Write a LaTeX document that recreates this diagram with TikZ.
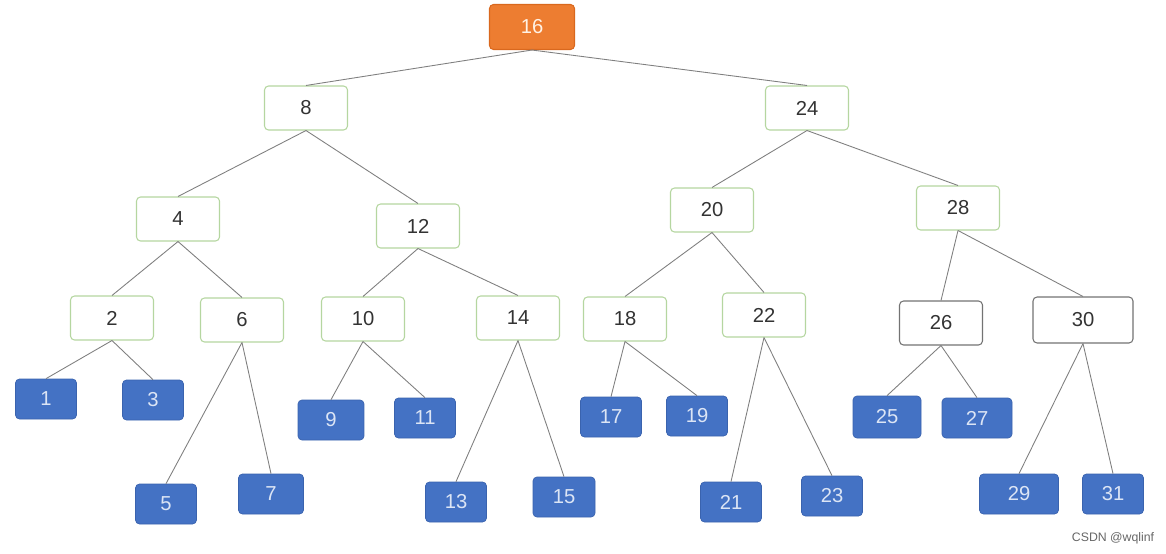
\documentclass[tikz,border=0pt]{standalone}
\usepackage{fontspec}
\setmainfont{Liberation Sans}
\definecolor{rootfill}{HTML}{ED7D31}
\definecolor{rootline}{HTML}{D9681E}
\definecolor{greenline}{HTML}{B5D6A0}
\definecolor{leaffill}{HTML}{4472C4}
\definecolor{leafline}{HTML}{3A63AE}
\definecolor{leaftext}{HTML}{DCE5F5}
\definecolor{edgegray}{HTML}{7F7F7F}
\begin{document}
\begin{tikzpicture}[
        x=0.02cm, y=-0.02cm,
        font=\fontsize{11.5}{13}\selectfont,
        box/.style={rectangle, rounded corners=0.08cm, draw=greenline, line width=0.6pt, fill=white, text=black!80, minimum width=1.66cm, minimum height=0.88cm, inner sep=0pt},
        graybox/.style={box, draw=black!55},
        root/.style={box, draw=rootline, fill=rootfill, text=white!90!orange, minimum width=1.7cm, minimum height=0.9cm},
        leaf/.style={rectangle, rounded corners=0.08cm, draw=leafline, fill=leaffill, text=leaftext, minimum width=1.22cm, minimum height=0.8cm, inner sep=0pt},
        edge/.style={draw=edgegray, line width=0.5pt}
    ]
    \useasboundingbox (0,0) rectangle (1166,554);
    
    \node[root] (n16) at (532,27) {16};
    
    \node[box] (n8) at (306,108) {8};
    \node[box] (n24) at (807,108) {24};
    
    \node[box] (n4) at (178,219) {4};
    \node[box] (n12) at (418,226) {12};
    \node[box] (n20) at (712,210) {20};
    \node[box] (n28) at (958,208) {28};
    
    \node[box] (n2) at (112,318) {2};
    \node[box] (n6) at (242,320) {6};
    \node[box] (n10) at (363,319) {10};
    \node[box] (n14) at (518,318) {14};
    \node[box] (n18) at (625,319) {18};
    \node[box] (n22) at (764,315) {22};
    \node[graybox] (n26) at (941,323) {26};
    \node[graybox, minimum width=2cm, minimum height=0.92cm] (n30) at (1083,320) {30};
    
    \node[leaf] (n1) at (46,399) {1};
    \node[leaf] (n3) at (153,400) {3};
    \node[leaf] (n5) at (166,504) {5};
    \node[leaf, minimum width=1.3cm] (n7) at (271,494) {7};
    \node[leaf, minimum width=1.32cm] (n9) at (331,420) {9};
    \node[leaf] (n11) at (425,418) {11};
    \node[leaf] (n13) at (456,502) {13};
    \node[leaf, minimum width=1.24cm] (n15) at (564,497) {15};
    \node[leaf] (n17) at (611,417) {17};
    \node[leaf] (n19) at (697,416) {19};
    \node[leaf] (n21) at (731,502) {21};
    \node[leaf] (n23) at (832,496) {23};
    \node[leaf, minimum width=1.36cm, minimum height=0.84cm] (n25) at (887,417) {25};
    \node[leaf, minimum width=1.4cm] (n27) at (977,418) {27};
    \node[leaf, minimum width=1.58cm] (n29) at (1019,494) {29};
    \node[leaf] (n31) at (1113,494) {31};
    
    % connectors
    \draw[edge] (n16.south) -- (n8.north);
    \draw[edge] (n16.south) -- (n24.north);
    \draw[edge] (n8.south) -- (n4.north);
    \draw[edge] (n8.south) -- (n12.north);
    \draw[edge] (n24.south) -- (n20.north);
    \draw[edge] (n24.south) -- (n28.north);
    \draw[edge] (n4.south) -- (n2.north);
    \draw[edge] (n4.south) -- (n6.north);
    \draw[edge] (n12.south) -- (n10.north);
    \draw[edge] (n12.south) -- (n14.north);
    \draw[edge] (n20.south) -- (n18.north);
    \draw[edge] (n20.south) -- (n22.north);
    \draw[edge] (n28.south) -- (n26.north);
    \draw[edge] (n28.south) -- (n30.north);
    \draw[edge] (n2.south) -- (n1.north);
    \draw[edge] (n2.south) -- (n3.north);
    \draw[edge] (n6.south) -- (n5.north);
    \draw[edge] (n6.south) -- (n7.north);
    \draw[edge] (n10.south) -- (n9.north);
    \draw[edge] (n10.south) -- (n11.north);
    \draw[edge] (n14.south) -- (n13.north);
    \draw[edge] (n14.south) -- (n15.north);
    \draw[edge] (n18.south) -- (n17.north);
    \draw[edge] (n18.south) -- (n19.north);
    \draw[edge] (n22.south) -- (n21.north);
    \draw[edge] (n22.south) -- (n23.north);
    \draw[edge] (n26.south) -- (n25.north);
    \draw[edge] (n26.south) -- (n27.north);
    \draw[edge] (n30.south) -- (n29.north);
    \draw[edge] (n30.south) -- (n31.north);
    
    \node[text=black!60, font=\fontsize{7}{8}\selectfont] (mark) at (1113,538) {CSDN @wqlinf};
    
\end{tikzpicture}
\end{document}
